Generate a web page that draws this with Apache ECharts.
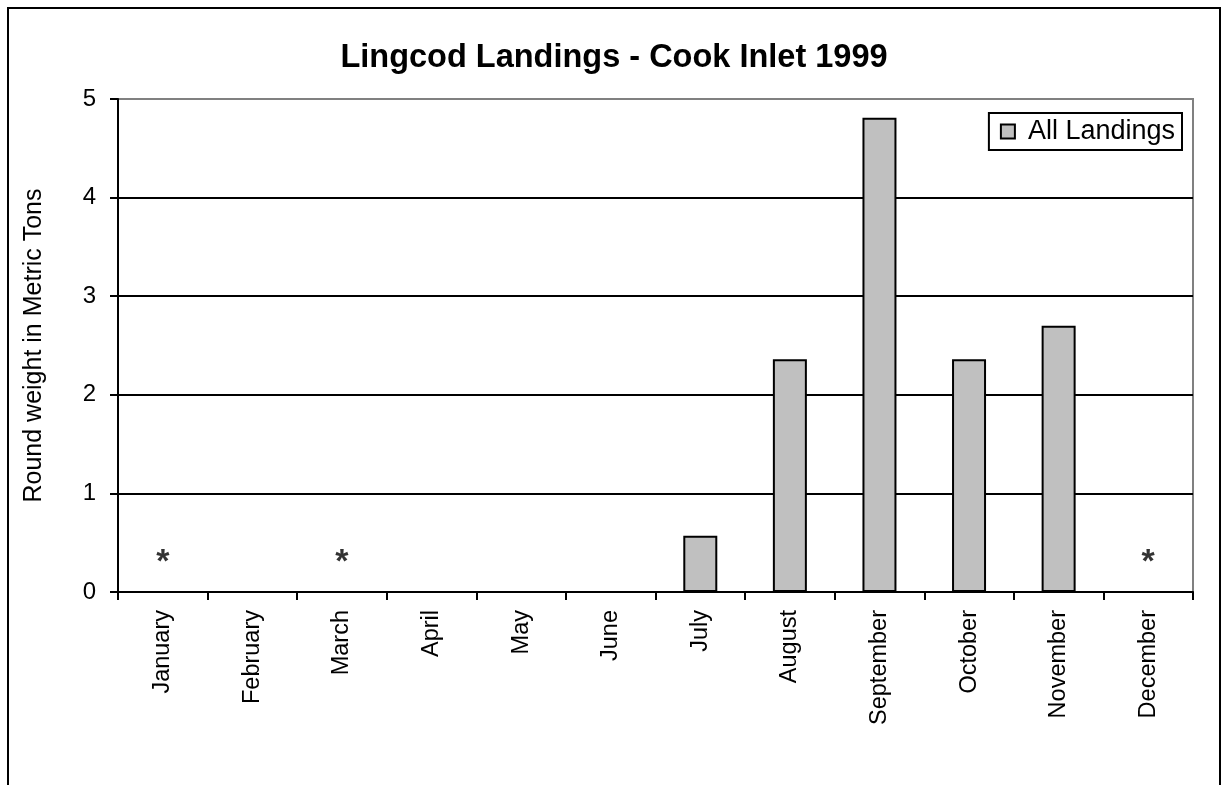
<!DOCTYPE html>
<html>
<head>
<meta charset="utf-8">
<script src="https://cdn.jsdelivr.net/npm/echarts@6/dist/echarts.min.js"></script>
<style>
html,body{margin:0;padding:0;background:#fff;}
#chart{width:1228px;height:785px;}
</style>
</head>
<body>
<div id="chart"></div>
<script>
const months = ['January','February','March','April','May','June','July','August','September','October','November','December'];
const landings = [null, null, null, null, null, null, 0.57, 2.36, 4.81, 2.36, 2.70, null];
// confidential-data markers ("*") shown in months without reportable landings
const asterisks = [0.37, null, 0.37, null, null, null, null, null, null, null, null, 0.37];
const yTicks = [0, 1, 2, 3, 4, 5];

const FONT = "'Liberation Sans', Arial, sans-serif";
const chart = echarts.init(document.getElementById('chart'));
chart.setOption({
  animation: false,
  backgroundColor: '#fff',
  title: {
    text: 'Lingcod Landings - Cook Inlet 1999',
    left: 'center',
    top: 37,
    textStyle: { fontFamily: FONT, fontSize: 32.5, fontWeight: 'bold', color: '#000' }
  },
  graphic: [{
    type: 'rect',
    shape: { x: 8, y: 8, width: 1212, height: 800 },
    style: { fill: 'none', stroke: '#000', lineWidth: 2 },
    silent: true, z: -1
  }],
  legend: {
    data: ['All Landings'],
    right: 46,
    top: 113,
    icon: 'rect',
    itemWidth: 14,
    itemHeight: 14,
    itemGap: 6,
    padding: [5, 7, 5, 11],
    borderColor: '#000',
    borderWidth: 2,
    textStyle: { fontFamily: FONT, fontSize: 27, color: '#000', padding: [0, 0, 0, 8] }
  },
  grid: {
    left: 118, right: 35, top: 99, bottom: 193,
    show: true, borderColor: '#808080', borderWidth: 2, backgroundColor: 'transparent'
  },
  xAxis: {
    type: 'category',
    data: months,
    boundaryGap: true,
    axisLine: { lineStyle: { color: '#000', width: 2 } },
    axisTick: { show: true, length: 8, lineStyle: { color: '#000', width: 2 } },
    axisLabel: { rotate: 90, margin: 18, fontFamily: FONT, fontSize: 23.5, color: '#000', interval: 0 },
    splitLine: { show: false }
  },
  yAxis: {
    type: 'value',
    min: yTicks[0],
    max: yTicks[yTicks.length - 1],
    interval: 1,
    name: 'Round weight in Metric Tons',
    nameLocation: 'middle',
    nameGap: 71,
    nameTextStyle: { fontFamily: FONT, fontSize: 25, color: '#000' },
    axisLine: { show: true, lineStyle: { color: '#000', width: 2 } },
    axisTick: { show: true, length: 8, lineStyle: { color: '#000', width: 2 } },
    axisLabel: { margin: 22, fontFamily: FONT, fontSize: 24, color: '#000' },
    splitLine: { show: true, lineStyle: { color: ['#000','#000','#000','#000','#000','#808080'], width: 2 } }
  },
  series: [
    {
      name: 'All Landings',
      type: 'bar',
      data: landings,
      barWidth: 34,
      itemStyle: { color: '#c0c0c0', borderColor: '#000', borderWidth: 2 }
    },
    {
      name: 'confidential',
      type: 'scatter',
      data: asterisks,
      symbolSize: 0,
      silent: true,
      label: {
        show: true, position: 'inside', formatter: '*',
        fontFamily: FONT, fontSize: 34, fontWeight: 'bold', color: '#000', offset: [0, 7]
      }
    }
  ]
});
</script>
</body>
</html>
